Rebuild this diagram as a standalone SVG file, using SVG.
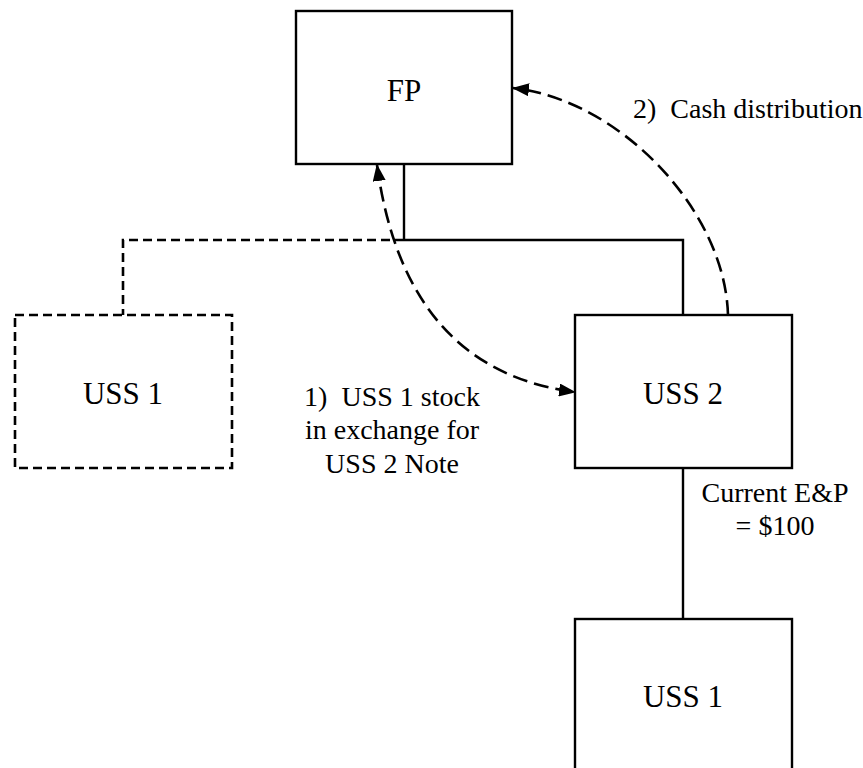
<svg xmlns="http://www.w3.org/2000/svg" width="863" height="768" viewBox="0 0 863 768">
<style>
.box{fill:#fff;stroke:#000;stroke-width:2.4}
.dbox{fill:#fff;stroke:#000;stroke-width:2.6;stroke-dasharray:9 5}
.line{fill:none;stroke:#000;stroke-width:2.4}
.dline{fill:none;stroke:#000;stroke-width:2.6;stroke-dasharray:9 5}
.arrow{fill:none;stroke:#000;stroke-width:2.6;stroke-dasharray:15 7;marker-end:url(#ah)}
.nt{font-family:"Liberation Serif","Times New Roman",serif;font-size:31px;text-anchor:middle;fill:#000}
.lt{font-family:"Liberation Serif","Times New Roman",serif;font-size:28px;text-anchor:middle;fill:#000}
</style>
<defs>
<marker id="ah" markerWidth="17" markerHeight="13" refX="16" refY="6.5" orient="auto-start-reverse" markerUnits="userSpaceOnUse">
<path d="M0,0 L17,6.5 L0,13 Z" fill="#000"/>
</marker>
</defs>
<rect width="863" height="768" fill="#fff"/>
<g id="connectors">
<polyline class="line" points="404,164 404,240"/>
<polyline class="line" points="404,240 683,240 683,315"/>
<polyline class="dline" points="404,240 123,240 123,315"/>
<polyline class="line" points="683,468 683,619"/>
<path id="arrow1" class="arrow" style="marker-start:url(#ah)" d="M377,165 Q405,370 575,392"/>
<path id="arrow2" class="arrow" d="M728,315 C725,210 620,100 513,88"/>
</g>
<g id="FP"><rect class="box" x="296" y="11" width="216" height="153"/><text class="nt" x="404" y="101">FP</text></g>
<g id="USS1_old"><rect class="dbox" x="15" y="315" width="217" height="153"/><text class="nt" x="123" y="404">USS 1</text></g>
<g id="USS2"><rect class="box" x="575" y="315" width="217" height="153"/><text class="nt" x="683" y="404">USS 2</text></g>
<g id="USS1"><rect class="box" x="575" y="619" width="217" height="160"/><text class="nt" x="683" y="707">USS 1</text></g>
<g id="labels">
<text class="lt" x="392" y="406" xml:space="preserve">1)  USS 1 stock</text>
<text class="lt" x="392" y="439">in exchange for</text>
<text class="lt" x="392" y="473">USS 2 Note</text>
<text class="lt" x="633" y="118" style="text-anchor:start" xml:space="preserve">2)  Cash distribution</text>
<text class="lt" x="775" y="502">Current E&amp;P</text>
<text class="lt" x="775" y="535">= $100</text>
</g>
</svg>
